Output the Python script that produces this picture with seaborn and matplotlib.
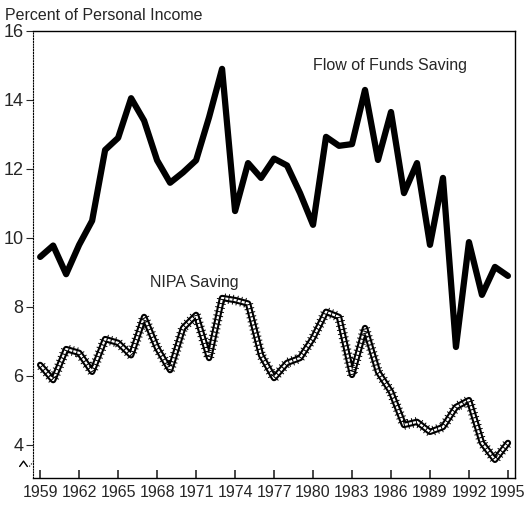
import pandas as pd
import matplotlib
matplotlib.use("Agg")
import matplotlib.pyplot as plt
import matplotlib.patheffects as pe
import seaborn as sns

# datos (porcentaje del ingreso personal)
years = list(range(1959, 1996))
flow_of_funds = [9.45, 9.78, 8.95, 9.8, 10.5, 12.55, 12.9, 14.05, 13.4, 12.25,
                 11.6, 11.9, 12.25, 13.5, 14.9, 10.78, 12.17, 11.74, 12.3, 12.1,
                 11.3, 10.38, 12.93, 12.67, 12.72, 14.29, 12.26, 13.65, 11.3, 12.17,
                 9.8, 11.74, 6.84, 9.88, 8.35, 9.16, 8.9]
nipa = [6.32, 5.88, 6.78, 6.67, 6.12, 7.07, 6.96, 6.6, 7.71, 6.81,
        6.17, 7.39, 7.77, 6.52, 8.26, 8.2, 8.1, 6.6, 5.94, 6.38,
        6.52, 7.1, 7.86, 7.71, 6.03, 7.39, 6.12, 5.54, 4.58, 4.67,
        4.38, 4.52, 5.1, 5.3, 4.06, 3.57, 4.06]
x_ticks = list(range(1959, 1996, 3))
y_ticks = [4, 6, 8, 10, 12, 14, 16]

df = pd.DataFrame({"year": years, "fof": flow_of_funds, "nipa": nipa})

sns.set_style("ticks")
plt.rcParams["font.family"] = ["Liberation Sans", "DejaVu Sans"]

fig = plt.figure(figsize=(5.26, 5.07), dpi=100)
ax = fig.add_axes([0.063, 0.057, 0.916, 0.882])

sns.lineplot(data=df, x="year", y="fof", ax=ax, color="black", linewidth=4.5,
             solid_joinstyle="round")
nipa_line = sns.lineplot(data=df, x="year", y="nipa", ax=ax, color="white", linewidth=1.6)
nipa_line.lines[-1].set_path_effects([
    pe.Stroke(linewidth=4.6, foreground="black"),
    pe.Normal(),
    pe.TickedStroke(spacing=3, angle=90, length=1.1, linewidth=0.7, foreground="black"),
    pe.TickedStroke(spacing=3, angle=-90, length=1.1, linewidth=0.7, foreground="black"),
])

ax.set_xlim(1958.46, 1995.54)
ax.set_ylim(3.04, 16)
ax.set_xticks(x_ticks)
ax.set_yticks(y_ticks)
ax.set_xlabel("")
ax.set_ylabel("")

for s in ["top", "right", "bottom", "left"]:
    ax.spines[s].set_visible(True)
    ax.spines[s].set_color("black")
    ax.spines[s].set_linewidth(1.0)
ax.spines["left"].set_linestyle((0, (1, 1.5)))
ax.spines["left"].set_linewidth(0.8)

ax.tick_params(axis="x", direction="in", length=6, width=1.2, labelsize=11.5, pad=5)
ax.tick_params(axis="y", direction="out", length=5, width=0.8, labelsize=13, pad=2)
for t in ax.yaxis.get_ticklines():
    t.set_linestyle((0, (1, 1.5)))

# marca de corte del eje
ax.plot([-0.028, -0.02, -0.012], [0.026, 0.038, 0.026], transform=ax.transAxes,
        color="black", linewidth=1.0, clip_on=False)
ax.plot([-0.008, 0.0], [0.026, 0.036], transform=ax.transAxes,
        color="black", linewidth=0.8, linestyle=(0, (1, 1.5)), clip_on=False)

ax.text(1985.9, 14.99, "Flow of Funds Saving", ha="center", va="center", fontsize=11.5)
ax.text(1970.85, 8.7, "NIPA Saving", ha="center", va="center", fontsize=11.5)
fig.text(0.01, 0.97, "Percent of Personal Income", ha="left", va="center", fontsize=11.5)

fig.savefig("out.png", dpi=100)
